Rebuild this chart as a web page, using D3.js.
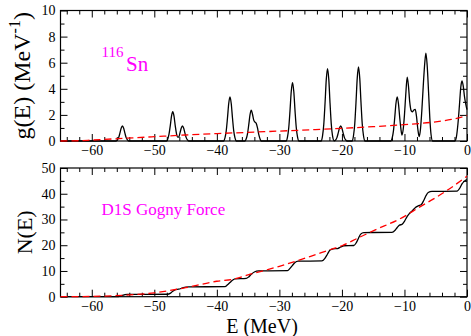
<!DOCTYPE html>
<html>
<head>
<meta charset="utf-8">
<script src="https://cdn.jsdelivr.net/npm/d3@7"></script>
<style>
  html, body { margin: 0; padding: 0; background: #fff; }
  svg text { font-family: "Liberation Serif", "Times New Roman", serif; }
</style>
</head>
<body>
<div class="chart"></div>
<script>
// level density g(E), smoothed
var levelDensity = [
  [-65,0],
  [-56.1,0],[-55.9,0.08],[-55.7,0.26],[-55.5,0.6],[-55.3,0.98],[-55.1,1.15],[-54.9,0.98],[-54.7,0.6],[-54.5,0.26],[-54.3,0.08],[-54.1,0],
  [-48.05,0],[-47.85,0.16],[-47.65,0.52],[-47.45,1.16],[-47.25,1.9],[-47.05,2.24],[-46.85,1.9],[-46.65,1.16],[-46.45,0.55],[-46.25,0.3],
  [-46.1,0.3],[-45.9,0.6],[-45.7,0.98],[-45.5,1.15],[-45.3,0.98],[-45.1,0.6],[-44.9,0.26],[-44.7,0.08],[-44.5,0],
  [-38.9,0],[-38.7,0.24],[-38.5,0.78],[-38.3,1.76],[-38.1,2.87],[-37.9,3.38],[-37.7,2.87],[-37.5,1.76],[-37.3,0.78],[-37.1,0.24],[-36.9,0],
  [-35.5,0],[-35.3,0.17],[-35.1,0.55],[-34.9,1.23],[-34.7,2.0],[-34.5,2.37],[-34.3,2.05],[-34.1,1.6],[-33.9,1.45],[-33.7,1.35],
  [-33.5,1.0],[-33.3,0.5],[-33.1,0.17],[-32.9,0],
  [-28.9,0],[-28.7,0.31],[-28.5,1.03],[-28.3,2.33],[-28.1,3.81],[-27.9,4.48],[-27.7,3.81],[-27.5,2.33],[-27.3,1.03],[-27.1,0.31],[-26.9,0],
  [-23.3,0],[-23.1,0.39],[-22.9,1.28],[-22.7,2.89],[-22.5,4.72],[-22.3,5.55],[-22.1,4.72],[-21.9,2.89],[-21.7,1.28],[-21.5,0.39],
  [-21.25,0.02],[-21.0,0.08],[-20.8,0.26],[-20.6,0.6],[-20.4,0.98],[-20.2,1.15],[-20.0,0.98],[-19.8,0.6],[-19.6,0.26],[-19.4,0.08],[-19.2,0],
  [-18.35,0],[-18.15,0.4],[-17.95,1.3],[-17.75,2.95],[-17.55,4.82],[-17.35,5.67],[-17.15,4.82],[-16.95,2.95],[-16.75,1.3],[-16.55,0.4],[-16.35,0],
  [-12.16,0],[-11.96,0.24],[-11.76,0.78],[-11.56,1.76],[-11.36,2.87],[-11.16,3.38],[-10.96,2.87],[-10.76,1.8],[-10.56,0.9],[-10.4,0.46],
  [-10.2,0.9],[-10.0,2.0],[-9.8,3.5],[-9.56,4.9],[-9.36,4.2],[-9.16,3.0],[-8.9,2.3],[-8.7,2.24],[-8.5,2.38],[-8.28,2.42],
  [-8.08,1.9],[-7.86,0.9],[-7.64,0.33],[-7.44,0.9],[-7.2,2.5],[-6.95,4.6],[-6.75,6.0],[-6.57,6.74],[-6.37,5.8],[-6.15,3.8],
  [-5.95,1.8],[-5.75,0.5],[-5.5,0],
  [-1.95,0],[-1.7,0.3],[-1.45,1.3],[-1.2,2.8],[-1.0,4.1],[-0.8,4.6],[-0.6,4.2],[-0.4,3.4],[-0.25,2.95],[-0.1,2.6],[0,2.4]
];
// smooth (average) density, red dashed
var smoothDensity = [
  [-65,0],[-62,0.02],[-60,0.07],[-55,0.2],[-50,0.33],[-45,0.46],[-40,0.57],[-35,0.66],[-30,0.76],
  [-25,0.86],[-20,0.97],[-15,1.1],[-10,1.25],[-5,1.47],[-2.5,1.65],[0,1.95]
];
// cumulative number of levels N(E)
var levelCount = [
  [-65,0],[-55.9,0],[-55.5,0.2],[-55.1,0.5],[-54.7,0.8],[-54.3,0.92],[-47.9,0.95],[-47.4,1.4],[-47.05,2.1],[-46.6,2.75],
  [-46.1,2.9],[-45.5,3.4],[-45.0,3.75],[-44.5,3.85],[-38.7,3.9],[-38.3,4.6],[-37.9,5.5],[-37.5,6.4],[-37.1,6.9],
  [-35.3,7.1],[-34.9,7.7],[-34.5,8.7],[-34.0,9.6],[-33.3,10.0],[-28.7,10.1],[-28.3,11.0],[-27.9,12.2],[-27.5,13.3],
  [-27.0,13.8],[-23.2,13.9],[-22.7,15.0],[-22.3,16.6],[-21.9,18.1],[-21.4,18.6],[-20.7,18.7],[-20.2,19.3],[-19.7,19.8],
  [-18.1,19.9],[-17.7,21.0],[-17.35,22.7],[-17.0,24.3],[-16.5,24.9],[-12.0,25.0],[-11.5,25.8],[-11.15,26.9],[-10.8,27.8],
  [-10.4,28.1],[-10.0,29.3],[-9.56,31.2],[-9.1,32.6],[-8.7,33.5],[-8.28,34.6],[-7.8,35.3],[-7.3,35.8],[-6.9,37.5],
  [-6.57,39.2],[-6.2,40.5],[-5.6,40.9],[-1.6,41.0],[-1.1,42.4],[-0.8,43.8],[-0.4,44.9],[0,45.5]
];
var smoothCount = [
  [-65,0],[-60,0.12],[-55,0.55],[-50,1.5],[-45,3.5],[-40,6.0],[-37,7.0],[-35,8.5],[-30,11.8],[-27.5,13.7],
  [-25,15.7],[-21.5,18.6],[-20,19.8],[-17.35,22.9],[-15,25.6],[-10,31.2],[-7.75,34.6],[-5,38.5],[-3.5,40.8],[0,46.8]
];

var xTicks = [-60,-50,-40,-30,-20,-10,0];
var gTicks = [0,2,4,6,8,10];
var nTicks = [0,10,20,30,40,50];

var W = 471, H = 336;
var left = 60.5, right = 467;
var top1 = 10.5, bot1 = 141;
var top2 = 168, bot2 = 296.7;
var serif = '"Liberation Serif", "Times New Roman", serif';

var svg = d3.select('.chart').append('svg')
  .attr('width', W).attr('height', H);

var x = d3.scaleLinear().domain([-65, 0]).range([left, right]);
var yG = d3.scaleLinear().domain([0, 10]).range([bot1, top1]);
var yN = d3.scaleLinear().domain([0, 50]).range([bot2, top2]);

var minorX = d3.range(-64, 0.1, 2).filter(v => xTicks.indexOf(v) < 0);

function panel(y, yTicks, minorY, yTop, yBot) {
  var g = svg.append('g');
  // bottom x axis with labels
  g.append('g').attr('transform', 'translate(0,' + yBot + ')')
    .call(d3.axisBottom(x).tickValues(xTicks).tickSize(-7).tickPadding(4.5));
  g.append('g').attr('transform', 'translate(0,' + yBot + ')')
    .call(d3.axisBottom(x).tickValues(minorX).tickSize(-4).tickFormat(''));
  // top mirror
  g.append('g').attr('transform', 'translate(0,' + yTop + ')')
    .call(d3.axisTop(x).tickValues(xTicks).tickSize(-7).tickFormat(''));
  g.append('g').attr('transform', 'translate(0,' + yTop + ')')
    .call(d3.axisTop(x).tickValues(minorX).tickSize(-4).tickFormat(''));
  // left y axis with labels
  g.append('g').attr('transform', 'translate(' + left + ',0)')
    .call(d3.axisLeft(y).tickValues(yTicks).tickSize(-7).tickPadding(5));
  g.append('g').attr('transform', 'translate(' + left + ',0)')
    .call(d3.axisLeft(y).tickValues(minorY).tickSize(-4).tickFormat(''));
  // right mirror
  g.append('g').attr('transform', 'translate(' + right + ',0)')
    .call(d3.axisRight(y).tickValues(yTicks).tickSize(-7).tickFormat(''));
  g.append('g').attr('transform', 'translate(' + right + ',0)')
    .call(d3.axisRight(y).tickValues(minorY).tickSize(-4).tickFormat(''));

  g.selectAll('.domain').remove();
  g.selectAll('.tick line').attr('stroke', '#000').attr('stroke-width', 1);
  g.selectAll('.tick text').attr('fill', '#000')
    .style('font-family', serif).style('font-size', '14px');

  g.append('rect')
    .attr('x', left).attr('y', yTop)
    .attr('width', right - left).attr('height', yBot - yTop)
    .attr('fill', 'none').attr('stroke', '#000').attr('stroke-width', 1.2);
  return g;
}

panel(yG, gTicks, [1,3,5,7,9], top1, bot1);
panel(yN, nTicks, [5,15,25,35,45], top2, bot2);

var lineG = d3.line().x(d => x(d[0])).y(d => yG(d[1])).curve(d3.curveMonotoneX);
var lineN = d3.line().x(d => x(d[0])).y(d => yN(d[1])).curve(d3.curveMonotoneX);

svg.append('path').datum(levelDensity).attr('d', lineG)
  .attr('fill', 'none').attr('stroke', '#000').attr('stroke-width', 1.3);
svg.append('path').datum(smoothDensity).attr('d', lineG)
  .attr('fill', 'none').attr('stroke', '#ff0000').attr('stroke-width', 1.3)
  .attr('stroke-dasharray', '7,4');

svg.append('path').datum(levelCount).attr('d', lineN)
  .attr('fill', 'none').attr('stroke', '#000').attr('stroke-width', 1.3);
svg.append('path').datum(smoothCount).attr('d', lineN)
  .attr('fill', 'none').attr('stroke', '#ff0000').attr('stroke-width', 1.3)
  .attr('stroke-dasharray', '7,4');

// annotations
svg.append('text').attr('x', 101.5).attr('y', 57).attr('fill', '#ff00ff')
  .style('font-family', serif).style('font-size', '15px').text('116');
svg.append('text').attr('x', 126).attr('y', 71).attr('fill', '#ff00ff')
  .style('font-family', serif).style('font-size', '21px').text('Sn');
svg.append('text').attr('x', 101.5).attr('y', 215).attr('fill', '#ff00ff')
  .style('font-family', serif).style('font-size', '17px').text('D1S Gogny Force');

// axis titles
var gt = svg.append('text')
  .attr('transform', 'translate(30,' + ((top1 + bot1) / 2) + ') rotate(-90)')
  .attr('text-anchor', 'middle').attr('fill', '#000')
  .style('font-family', serif).style('font-size', '24px');
gt.append('tspan').text('g(E) (MeV');
gt.append('tspan').attr('dy', -10).style('font-size', '16px').text('-1');
gt.append('tspan').attr('dy', 10).text(')');

svg.append('text')
  .attr('transform', 'translate(32,' + ((top2 + bot2) / 2) + ') rotate(-90)')
  .attr('text-anchor', 'middle').attr('fill', '#000')
  .style('font-family', serif).style('font-size', '22px')
  .text('N(E)');

svg.append('text').attr('x', 262).attr('y', 333)
  .attr('text-anchor', 'middle').attr('fill', '#000')
  .style('font-family', serif).style('font-size', '20px')
  .text('E (MeV)');
</script>
</body>
</html>
